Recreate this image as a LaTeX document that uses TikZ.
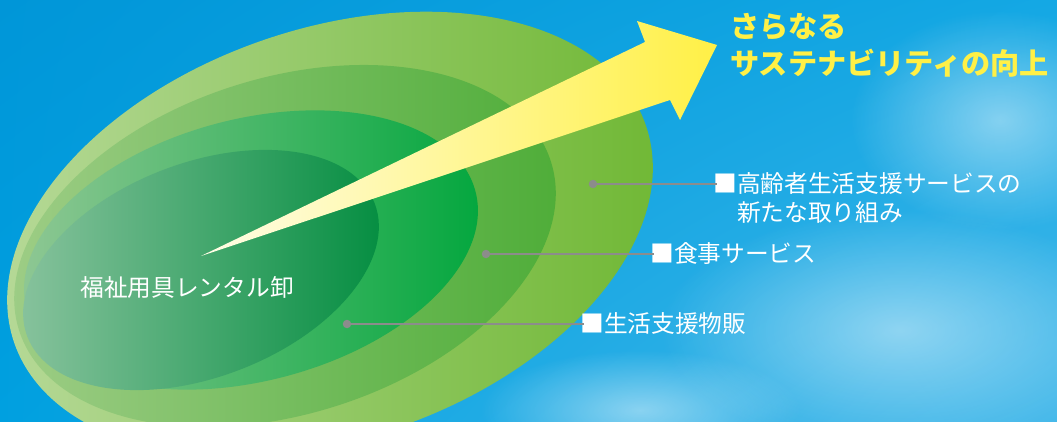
\documentclass[tikz,border=0pt]{standalone}
\usepackage{fontspec}
\newfontfamily\jp{Noto Sans CJK JP}
\usetikzlibrary{fadings,shadings}

\definecolor{skyA}{RGB}{0,150,216}
\definecolor{skyB}{RGB}{20,168,228}
\definecolor{skyC}{RGB}{0,160,224}
\definecolor{skyD}{RGB}{70,185,234}
\definecolor{pingray}{RGB}{140,140,140}
\definecolor{goalyellow}{RGB}{255,240,70}

\tikzfading[name=puff, inner color=transparent!55, outer color=transparent!100]

\tikzstyle{service}=[text=white, font=\jp\fontsize{13.5}{16.4}\selectfont,
  inner sep=0pt, anchor=west]
\tikzstyle{pin}=[circle, fill=pingray, inner sep=0pt, minimum size=1.7mm]
\tikzstyle{leader}=[pingray, line width=1.1pt]
\tikzstyle{goal}=[text=goalyellow, font=\jp\bfseries\fontsize{16.6}{21}\selectfont,
  inner sep=0pt, anchor=west, align=left]

\begin{document}
\begin{tikzpicture}[x=0.02cm, y=-0.02cm]
\useasboundingbox (0,0) rectangle (1057,422);
\clip (0,0) rectangle (1057,422);
%
% sky
\shade[upper left=skyA, upper right=skyB, lower left=skyC, lower right=skyD]
  (0,0) rectangle (1057,422);
\fill[white, path fading=puff] (900,330) ellipse [x radius=240, y radius=120];
\fill[white, path fading=puff] (1000,120) ellipse [x radius=150, y radius=110];
\fill[white, path fading=puff] (640,410) ellipse [x radius=160, y radius=60];
%
% nested layers
\shade[left color={rgb,255:red,184;green,218;blue,154}, right color={rgb,255:red,110;green,183;blue,50}]
  (330,234) ellipse [x radius=334, y radius=205, rotate=19];
\shade[left color={rgb,255:red,160;green,206;blue,136}, right color={rgb,255:red,76;green,172;blue,54}]
  (285,246) ellipse [x radius=279, y radius=168, rotate=17.6];
\shade[left color={rgb,255:red,146;green,200;blue,150}, right color={rgb,255:red,0;green,166;blue,60}]
  (251,250) ellipse [x radius=232, y radius=131, rotate=14.6];
\shade[left color={rgb,255:red,140;green,196;blue,160}, middle color={rgb,255:red,40;green,150;blue,82},
  right color={rgb,255:red,0;green,140;blue,62}]
  (201,270) ellipse [x radius=186, y radius=107, rotate=21];
%
% leaders
\draw(593,184) node[pin](pin1){};
\draw(486,254) node[pin](pin2){};
\draw(347,324) node[pin](pin3){};
\draw(713,198) node[service, align=left](care)
  {■高齢者生活支援サービスの\\\hphantom{■}新たな取り組み};
\draw(650,254) node[service](meal){■食事サービス};
\draw(580,324) node[service](goods){■生活支援物販};
\draw[leader, shorten >=-2pt] (pin1.center) -- (pin1 -| care.west);
\draw[leader, shorten >=-2pt] (pin2.center) -- (meal);
\draw[leader, shorten >=-2pt] (pin3.center) -- (goods);
%
% arrow
\coordinate (tail) at (201,256);
\coordinate (tip) at (717,45);
\shade[left color={rgb,255:red,255;green,253;blue,232}, right color=goalyellow]
  (tail) -- (645,42) -- (637,21) -- (tip) -- (680,120) -- (670,100) -- cycle;
%
\draw(80,287) node[service](rental){福祉用具レンタル卸};
\draw(730,45) node[goal](goal){さらなる\\サステナビリティの向上};
\end{tikzpicture}
\end{document}
